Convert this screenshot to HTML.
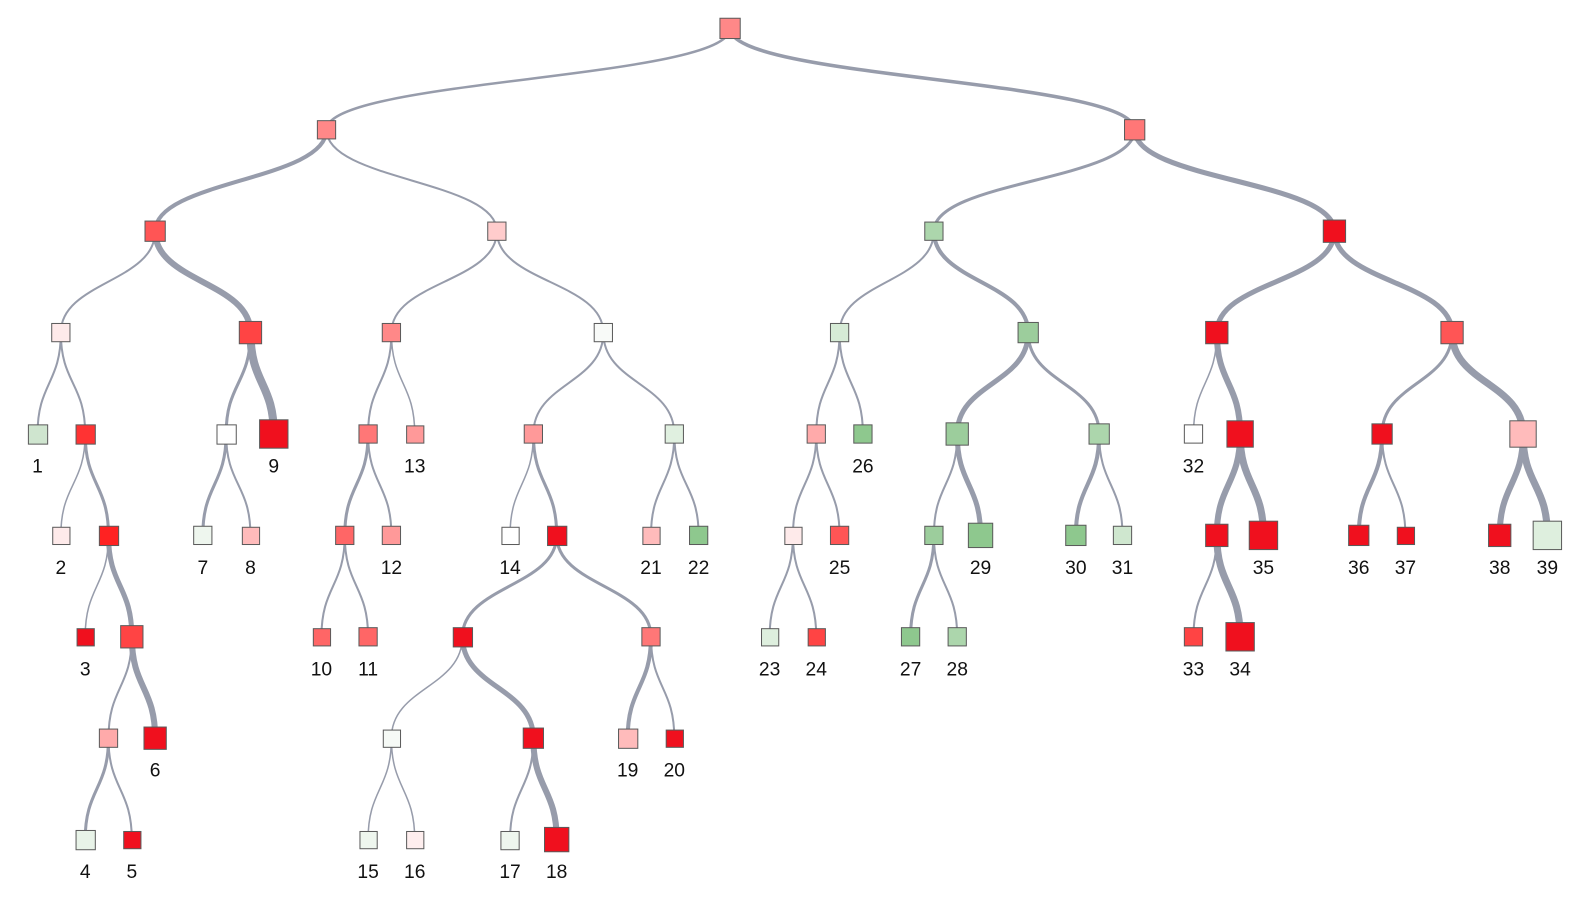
<!DOCTYPE html>
<html><head><meta charset="utf-8"><style>
html,body{margin:0;padding:0;background:#fff;}
svg{display:block;}
path{fill:none;stroke:#979cab;stroke-linecap:round;}
rect{stroke:#5a5a5a;stroke-width:1;}
text{font-family:"Liberation Sans",sans-serif;font-size:19px;fill:#111;text-anchor:middle;}
</style></head><body>
<svg width="1590" height="916" viewBox="0 0 1590 916" xmlns="http://www.w3.org/2000/svg">
<g transform="scale(1.014)">
<path d="M720 28 C720 78 322 78 322 128" stroke-width="2.5"/>
<path d="M720 28 C720 78 1119 78 1119 128" stroke-width="3.5"/>
<path d="M322 128 C322 178 153 178 153 228" stroke-width="4"/>
<path d="M322 128 C322 178 490 178 490 228" stroke-width="2"/>
<path d="M1119 128 C1119 178 921 178 921 228" stroke-width="3"/>
<path d="M1119 128 C1119 178 1316 178 1316 228" stroke-width="5"/>
<path d="M153 228 C153 278 60 278 60 328" stroke-width="2"/>
<path d="M153 228 C153 278 247 278 247 328" stroke-width="6"/>
<path d="M490 228 C490 278 386 278 386 328" stroke-width="2"/>
<path d="M490 228 C490 278 595 278 595 328" stroke-width="2"/>
<path d="M921 228 C921 278 828 278 828 328" stroke-width="2"/>
<path d="M921 228 C921 278 1014 278 1014 328" stroke-width="4"/>
<path d="M1316 228 C1316 278 1200 278 1200 328" stroke-width="5"/>
<path d="M1316 228 C1316 278 1432 278 1432 328" stroke-width="5"/>
<path d="M60 328 C60 378 37 378 37 428" stroke-width="2"/>
<path d="M60 328 C60 378 84 378 84 428" stroke-width="2"/>
<path d="M247 328 C247 378 223 378 223 428" stroke-width="3"/>
<path d="M247 328 C247 378 270 378 270 428" stroke-width="8"/>
<path d="M386 328 C386 378 363 378 363 428" stroke-width="2"/>
<path d="M386 328 C386 378 409 378 409 428" stroke-width="1.5"/>
<path d="M595 328 C595 378 526 378 526 428" stroke-width="2"/>
<path d="M595 328 C595 378 665 378 665 428" stroke-width="2"/>
<path d="M828 328 C828 378 805 378 805 428" stroke-width="2"/>
<path d="M828 328 C828 378 851 378 851 428" stroke-width="2"/>
<path d="M1014 328 C1014 378 944 378 944 428" stroke-width="5"/>
<path d="M1014 328 C1014 378 1084 378 1084 428" stroke-width="3"/>
<path d="M1200 328 C1200 378 1177 378 1177 428" stroke-width="1.5"/>
<path d="M1200 328 C1200 378 1223 378 1223 428" stroke-width="6"/>
<path d="M1432 328 C1432 378 1363 378 1363 428" stroke-width="3"/>
<path d="M1432 328 C1432 378 1502 378 1502 428" stroke-width="7"/>
<path d="M84 428 C84 478 60 478 60 528" stroke-width="1.5"/>
<path d="M84 428 C84 478 107 478 107 528" stroke-width="3"/>
<path d="M223 428 C223 478 200 478 200 528" stroke-width="3"/>
<path d="M223 428 C223 478 247 478 247 528" stroke-width="2"/>
<path d="M363 428 C363 478 340 478 340 528" stroke-width="3"/>
<path d="M363 428 C363 478 386 478 386 528" stroke-width="2"/>
<path d="M526 428 C526 478 503 478 503 528" stroke-width="1.5"/>
<path d="M526 428 C526 478 549 478 549 528" stroke-width="3"/>
<path d="M665 428 C665 478 642 478 642 528" stroke-width="2"/>
<path d="M665 428 C665 478 689 478 689 528" stroke-width="2"/>
<path d="M805 428 C805 478 782 478 782 528" stroke-width="2"/>
<path d="M805 428 C805 478 828 478 828 528" stroke-width="2"/>
<path d="M944 428 C944 478 921 478 921 528" stroke-width="2"/>
<path d="M944 428 C944 478 967 478 967 528" stroke-width="5"/>
<path d="M1084 428 C1084 478 1061 478 1061 528" stroke-width="4"/>
<path d="M1084 428 C1084 478 1107 478 1107 528" stroke-width="2"/>
<path d="M1223 428 C1223 478 1200 478 1200 528" stroke-width="6"/>
<path d="M1223 428 C1223 478 1246 478 1246 528" stroke-width="7"/>
<path d="M1363 428 C1363 478 1340 478 1340 528" stroke-width="4"/>
<path d="M1363 428 C1363 478 1386 478 1386 528" stroke-width="2"/>
<path d="M1502 428 C1502 478 1479 478 1479 528" stroke-width="6"/>
<path d="M1502 428 C1502 478 1526 478 1526 528" stroke-width="7"/>
<path d="M107 528 C107 578 84 578 84 628" stroke-width="1.5"/>
<path d="M107 528 C107 578 130 578 130 628" stroke-width="5"/>
<path d="M340 528 C340 578 317 578 317 628" stroke-width="2"/>
<path d="M340 528 C340 578 363 578 363 628" stroke-width="2"/>
<path d="M549 528 C549 578 456 578 456 628" stroke-width="3"/>
<path d="M549 528 C549 578 642 578 642 628" stroke-width="3"/>
<path d="M782 528 C782 578 759 578 759 628" stroke-width="2"/>
<path d="M782 528 C782 578 805 578 805 628" stroke-width="2"/>
<path d="M921 528 C921 578 898 578 898 628" stroke-width="3"/>
<path d="M921 528 C921 578 944 578 944 628" stroke-width="2"/>
<path d="M1200 528 C1200 578 1177 578 1177 628" stroke-width="2"/>
<path d="M1200 528 C1200 578 1223 578 1223 628" stroke-width="7"/>
<path d="M130 628 C130 678 107 678 107 728" stroke-width="2"/>
<path d="M130 628 C130 678 153 678 153 728" stroke-width="6"/>
<path d="M456 628 C456 678 386 678 386 728" stroke-width="1.5"/>
<path d="M456 628 C456 678 526 678 526 728" stroke-width="5"/>
<path d="M642 628 C642 678 619 678 619 728" stroke-width="4"/>
<path d="M642 628 C642 678 665 678 665 728" stroke-width="2"/>
<path d="M107 728 C107 778 84 778 84 828" stroke-width="3"/>
<path d="M107 728 C107 778 130 778 130 828" stroke-width="2"/>
<path d="M386 728 C386 778 363 778 363 828" stroke-width="1.5"/>
<path d="M386 728 C386 778 409 778 409 828" stroke-width="1.5"/>
<path d="M526 728 C526 778 503 778 503 828" stroke-width="2"/>
<path d="M526 728 C526 778 549 778 549 828" stroke-width="6"/>
<rect x="710" y="18" width="20" height="20" fill="#f88"/>
<rect x="313" y="119" width="18" height="18" fill="#f88"/>
<rect x="1109" y="118" width="20" height="20" fill="#f77"/>
<rect x="143" y="218" width="20" height="20" fill="#f55"/>
<rect x="481" y="219" width="18" height="18" fill="#fcc"/>
<rect x="912" y="219" width="18" height="18" fill="#acd6ac"/>
<rect x="1305" y="217" width="22" height="22" fill="#f0101e"/>
<rect x="51" y="319" width="18" height="18" fill="#feeaea"/>
<rect x="236" y="317" width="22" height="22" fill="#f44"/>
<rect x="377" y="319" width="18" height="18" fill="#f88"/>
<rect x="586" y="319" width="18" height="18" fill="#f8faf8"/>
<rect x="819" y="319" width="18" height="18" fill="#d6ebd6"/>
<rect x="1004" y="318" width="20" height="20" fill="#9ccd9c"/>
<rect x="1189" y="317" width="22" height="22" fill="#f0101e"/>
<rect x="1421" y="317" width="22" height="22" fill="#f55"/>
<rect x="28" y="419" width="19" height="19" fill="#cfe5cf"/>
<rect x="75" y="419" width="19" height="19" fill="#f33"/>
<rect x="214" y="419" width="19" height="19" fill="#fff"/>
<rect x="256" y="414" width="28" height="28" fill="#f0101e"/>
<rect x="354" y="419" width="18" height="18" fill="#f77"/>
<rect x="401" y="420" width="17" height="17" fill="#f99"/>
<rect x="517" y="419" width="18" height="18" fill="#f99"/>
<rect x="656" y="419" width="18" height="18" fill="#e0f0e0"/>
<rect x="796" y="419" width="18" height="18" fill="#faa"/>
<rect x="842" y="419" width="18" height="18" fill="#8ec88e"/>
<rect x="933" y="417" width="22" height="22" fill="#9ccd9c"/>
<rect x="1074" y="418" width="20" height="20" fill="#acd6ac"/>
<rect x="1168" y="419" width="18" height="18" fill="#fff"/>
<rect x="1210" y="415" width="26" height="26" fill="#f0101e"/>
<rect x="1353" y="418" width="20" height="20" fill="#f0101e"/>
<rect x="1489" y="415" width="26" height="26" fill="#fbb"/>
<rect x="52" y="520" width="17" height="17" fill="#feeaea"/>
<rect x="98" y="519" width="19" height="19" fill="#f22"/>
<rect x="191" y="519" width="18" height="18" fill="#eef6ee"/>
<rect x="239" y="520" width="17" height="17" fill="#fbb"/>
<rect x="331" y="519" width="18" height="18" fill="#f66"/>
<rect x="377" y="519" width="18" height="18" fill="#f99"/>
<rect x="495" y="520" width="17" height="17" fill="#fff"/>
<rect x="540" y="519" width="19" height="19" fill="#f0101e"/>
<rect x="634" y="520" width="17" height="17" fill="#fbb"/>
<rect x="680" y="519" width="18" height="18" fill="#8ec88e"/>
<rect x="774" y="520" width="17" height="17" fill="#feeaea"/>
<rect x="819" y="519" width="18" height="18" fill="#f55"/>
<rect x="912" y="519" width="18" height="18" fill="#9ccd9c"/>
<rect x="955" y="516" width="24" height="24" fill="#8ec88e"/>
<rect x="1051" y="518" width="20" height="20" fill="#8ec88e"/>
<rect x="1098" y="519" width="18" height="18" fill="#cfe7cf"/>
<rect x="1189" y="517" width="22" height="22" fill="#f0101e"/>
<rect x="1232" y="514" width="28" height="28" fill="#f0101e"/>
<rect x="1330" y="518" width="20" height="20" fill="#f0101e"/>
<rect x="1378" y="520" width="17" height="17" fill="#f0101e"/>
<rect x="1468" y="517" width="22" height="22" fill="#f0101e"/>
<rect x="1512" y="514" width="28" height="28" fill="#deefde"/>
<rect x="76" y="620" width="17" height="17" fill="#f0101e"/>
<rect x="119" y="617" width="22" height="22" fill="#f44"/>
<rect x="309" y="620" width="17" height="17" fill="#f66"/>
<rect x="354" y="619" width="18" height="18" fill="#f66"/>
<rect x="447" y="619" width="19" height="19" fill="#f0101e"/>
<rect x="633" y="619" width="18" height="18" fill="#f77"/>
<rect x="751" y="620" width="17" height="17" fill="#deefde"/>
<rect x="797" y="620" width="17" height="17" fill="#f44"/>
<rect x="889" y="619" width="18" height="18" fill="#8ec88e"/>
<rect x="935" y="619" width="18" height="18" fill="#acd6ac"/>
<rect x="1168" y="619" width="18" height="18" fill="#f44"/>
<rect x="1209" y="614" width="28" height="28" fill="#f0101e"/>
<rect x="98" y="719" width="18" height="18" fill="#faa"/>
<rect x="142" y="717" width="22" height="22" fill="#f0101e"/>
<rect x="378" y="720" width="17" height="17" fill="#f6faf6"/>
<rect x="516" y="718" width="20" height="20" fill="#f0101e"/>
<rect x="610" y="719" width="19" height="19" fill="#fbb"/>
<rect x="657" y="720" width="17" height="17" fill="#f0101e"/>
<rect x="75" y="819" width="19" height="19" fill="#e8f3e8"/>
<rect x="122" y="820" width="17" height="17" fill="#f0101e"/>
<rect x="355" y="820" width="17" height="17" fill="#eef6ee"/>
<rect x="401" y="820" width="17" height="17" fill="#feeeee"/>
<rect x="494" y="820" width="18" height="18" fill="#eef6ee"/>
<rect x="537" y="816" width="24" height="24" fill="#f0101e"/>
<text x="37" y="466">1</text>
<text x="270" y="466">9</text>
<text x="409" y="466">13</text>
<text x="851" y="466">26</text>
<text x="1177" y="466">32</text>
<text x="60" y="566">2</text>
<text x="200" y="566">7</text>
<text x="247" y="566">8</text>
<text x="386" y="566">12</text>
<text x="503" y="566">14</text>
<text x="642" y="566">21</text>
<text x="689" y="566">22</text>
<text x="828" y="566">25</text>
<text x="967" y="566">29</text>
<text x="1061" y="566">30</text>
<text x="1107" y="566">31</text>
<text x="1246" y="566">35</text>
<text x="1340" y="566">36</text>
<text x="1386" y="566">37</text>
<text x="1479" y="566">38</text>
<text x="1526" y="566">39</text>
<text x="84" y="666">3</text>
<text x="317" y="666">10</text>
<text x="363" y="666">11</text>
<text x="759" y="666">23</text>
<text x="805" y="666">24</text>
<text x="898" y="666">27</text>
<text x="944" y="666">28</text>
<text x="1177" y="666">33</text>
<text x="1223" y="666">34</text>
<text x="153" y="766">6</text>
<text x="619" y="766">19</text>
<text x="665" y="766">20</text>
<text x="84" y="866">4</text>
<text x="130" y="866">5</text>
<text x="363" y="866">15</text>
<text x="409" y="866">16</text>
<text x="503" y="866">17</text>
<text x="549" y="866">18</text>
</g>
</svg>
</body></html>
